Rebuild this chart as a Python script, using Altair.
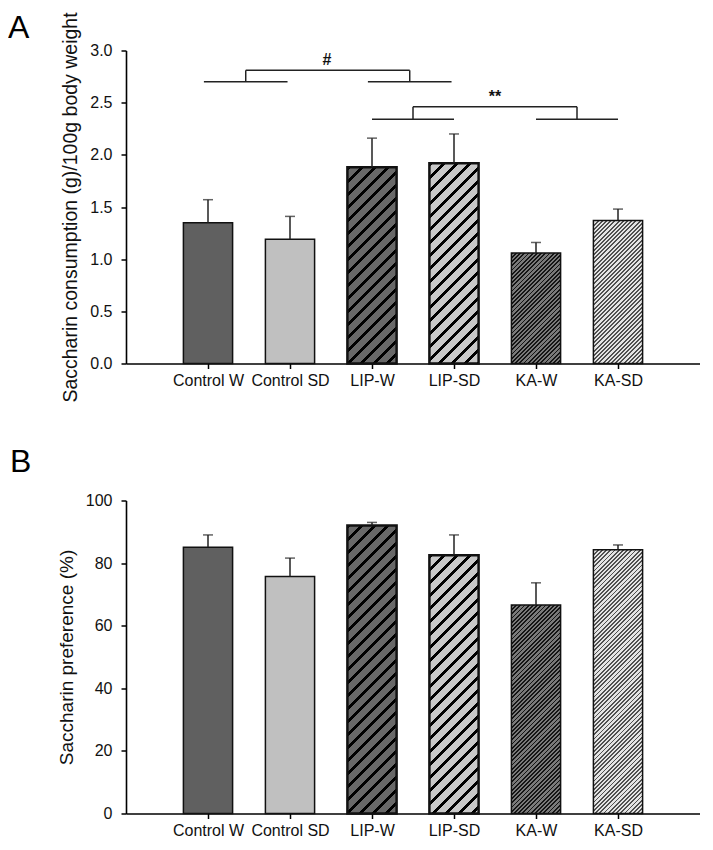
import json
import altair as alt
import pandas as pd

# ---------------- data ----------------
groups = ["Control W", "Control SD", "LIP-W", "LIP-SD", "KA-W", "KA-SD"]
positions = [1, 2, 3, 4, 5, 6]

consumption_mean = [1.35, 1.19, 1.88, 1.92, 1.06, 1.37]
consumption_err = [0.22, 0.22, 0.28, 0.28, 0.10, 0.11]

preference_mean = [85.1, 75.7, 92.0, 82.5, 66.6, 84.3]
preference_err = [3.9, 5.9, 1.0, 6.5, 7.1, 1.5]

consumption_ticks = [0.0, 0.5, 1.0, 1.5, 2.0, 2.5, 3.0]
preference_ticks = [0, 20, 40, 60, 80, 100]

# significance brackets (panel A), in data units
bracket_x = [0.95, 2.95, 1.46, 3.46, 1.46, 3.0, 5.0, 3.5, 5.5, 3.5]
bracket_x2 = [1.97, 3.97, 1.46, 3.46, 3.46, 4.0, 6.0, 3.5, 5.5, 5.5]
bracket_y = [2.70, 2.70, 2.70, 2.70, 2.81, 2.34, 2.34, 2.34, 2.34, 2.46]
bracket_y2 = [2.70, 2.70, 2.81, 2.81, 2.81, 2.34, 2.34, 2.46, 2.46, 2.46]
sig_text = ["#", "**"]
sig_x = [2.45, 4.5]
sig_y = [2.81, 2.46]

# ---------------- styles ----------------
FONT = "Liberation Sans"
BAR_HALF = 0.3
XMAX = 7
styles = {
    "Control W": dict(base="#606060", line=None, sw=1.5),
    "Control SD": dict(base="#c0c0c0", line=None, sw=1.5),
    "LIP-W": dict(base="#686868", line="#000000", period=13.0, frac=0.27, sw=2.5),
    "LIP-SD": dict(base="#c8c8c8", line="#000000", period=13.0, frac=0.27, sw=2.5),
    "KA-W": dict(base="#7a7a7a", line="#151515", period=4.2, frac=0.45, sw=1.5),
    "KA-SD": dict(base="#e4e4e4", line="#505050", period=4.2, frac=0.45, sw=1.5),
}


def hatch(w, h, base, line, period, frac):
    """45-degree stripes as a hard-stop linear gradient (bounding-box units)."""
    k = h / w
    D = w + h * h / w
    stops = []
    s = 0.0
    smax = w + h
    while s < smax:
        a = min(s / D, 1.0)
        b = min((s + frac * period) / D, 1.0)
        c = min((s + period) / D, 1.0)
        stops += [dict(offset=a, color=line), dict(offset=b, color=line),
                  dict(offset=b, color=base), dict(offset=c, color=base)]
        s += period
    return {"gradient": "linear", "x1": 0, "y1": 0, "x2": 1, "y2": k,
            "stops": stops}


def panel(means, errs, ymax, ticks, fmt, title, tsize, W, H, letter, lx, ly,
          extra=None):
    df = pd.DataFrame({"group": groups, "pos": positions,
                       "mean": means, "err": errs})
    df["top"] = df["mean"] + df["err"]
    df["x0"] = df["pos"] - BAR_HALF
    df["x1"] = df["pos"] + BAR_HALF
    df["zero"] = 0.0

    xs = alt.Scale(domain=[0, XMAX], nice=False, zero=False)
    ys = alt.Scale(domain=[0, ymax], nice=False)
    xaxis = alt.Axis(values=positions,
                     labelExpr=json.dumps(groups) + "[datum.value - 1]",
                     labelOverlap=False, labelFlush=False, tickSize=5,
                     labelPadding=4, grid=False)
    yaxis = alt.Axis(values=ticks, format=fmt, tickSize=5, labelPadding=9,
                     titlePadding=9, titleFontSize=tsize, grid=False)

    step = W / XMAX
    w = 2 * BAR_HALF * step
    layers = []
    for g, m in zip(groups, means):
        st = styles[g]
        h = m / ymax * H
        if st["line"] is None:
            fill = st["base"]
        else:
            fill = hatch(w, h, st["base"], st["line"], st["period"], st["frac"])
        layers.append(
            alt.Chart(df).transform_filter(alt.datum.group == g)
            .mark_bar(fill=fill, stroke="#111111", strokeWidth=st["sw"])
            .encode(x=alt.X("x0:Q", scale=xs, axis=xaxis, title=None),
                    x2="x1:Q",
                    y=alt.Y("mean:Q", scale=ys, axis=yaxis, title=title),
                    y2="zero:Q")
        )
    err_line = alt.Chart(df).mark_rule(color="#222222", strokeWidth=1.5).encode(
        x=alt.X("pos:Q", scale=xs, axis=xaxis, title=None),
        y=alt.Y("mean:Q", scale=ys, axis=yaxis, title=title),
        y2="top:Q")
    err_cap = alt.Chart(df).mark_tick(orient="horizontal", size=10, thickness=1.5,
                                      color="#222222").encode(
        x=alt.X("pos:Q", scale=xs, axis=xaxis, title=None),
        y=alt.Y("top:Q", scale=ys, axis=yaxis, title=title))
    lab = alt.Chart(pd.DataFrame({"label": [letter]})).mark_text(
        font=FONT, fontSize=32, align="left", baseline="top",
        color="#000000").encode(text="label:N", x=alt.value(lx), y=alt.value(ly))
    layers += [err_line, err_cap, lab]
    if extra:
        layers += [e(xs, ys, xaxis, yaxis, title) for e in extra]
    return alt.layer(*layers).properties(width=W, height=H)


def brackets(xs, ys, xaxis, yaxis, title):
    bd = pd.DataFrame({"bx": bracket_x, "bx2": bracket_x2,
                       "by": bracket_y, "by2": bracket_y2})
    return alt.Chart(bd).mark_rule(color="#222222", strokeWidth=1.5).encode(
        x=alt.X("bx:Q", scale=xs, axis=xaxis, title=None), x2="bx2:Q",
        y=alt.Y("by:Q", scale=ys, axis=yaxis, title=title), y2="by2:Q")


def sig(xs, ys, xaxis, yaxis, title):
    sd = pd.DataFrame({"t": sig_text, "sx": sig_x, "sy": sig_y})
    return alt.Chart(sd).mark_text(font=FONT, fontSize=16, fontWeight="bold",
                                   baseline="alphabetic", dy=-5,
                                   color="#111111").encode(
        x=alt.X("sx:Q", scale=xs, axis=xaxis, title=None),
        y=alt.Y("sy:Q", scale=ys, axis=yaxis, title=title),
        text="t:N")


panel_a = panel(consumption_mean, consumption_err, 3.0, consumption_ticks, ".1f",
                "Saccharin consumption (g)/100g body weight", 19.5, 574, 313,
                "A", -118, -38, extra=[brackets, sig])
panel_b = panel(preference_mean, preference_err, 100, preference_ticks, "d",
                "Saccharin preference (%)", 19, 574, 313, "B", -116, -54)

chart = alt.concat(panel_a, panel_b, columns=1, align="none", spacing=43).resolve_scale(
    x="independent", y="independent"
).properties(padding={"top": 3.5, "left": 0, "right": 0, "bottom": 0}
).configure_view(stroke=None).configure_axis(
    domainColor="#000000", domainWidth=1.6, tickColor="#000000", tickWidth=1.5,
    labelFont=FONT, labelFontSize=16, labelColor="#111111",
    titleFont=FONT, titleFontWeight="normal", titleColor="#111111"
)

chart.save("out.html", embed_options={"renderer": "svg", "actions": False})
